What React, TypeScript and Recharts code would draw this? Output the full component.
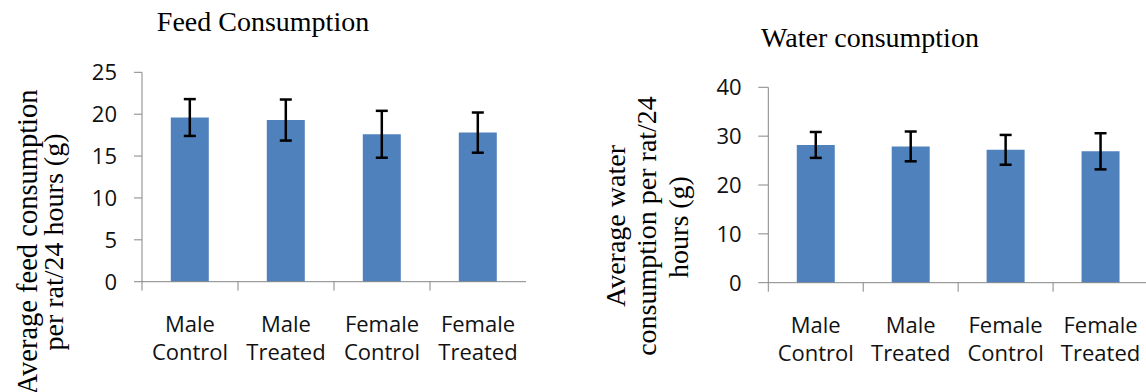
import React from 'react';
import { BarChart, Bar, XAxis, YAxis, ErrorBar } from 'recharts';

const categories = ['Male Control', 'Male Treated', 'Female Control', 'Female Treated'];
const feedMean = [19.6, 19.3, 17.6, 17.8];
const feedErr = [2.2, 2.45, 2.8, 2.4];
const waterMean = [28.2, 27.9, 27.2, 26.9];
const waterErr = [2.65, 3.05, 3.05, 3.7];
const feedTicks = [0, 5, 10, 15, 20, 25];
const waterTicks = [0, 10, 20, 30, 40];

const feedData = categories.map((c, i) => ({ name: c, value: feedMean[i], err: feedErr[i] }));
const waterData = categories.map((c, i) => ({ name: c, value: waterMean[i], err: waterErr[i] }));

const AXIS = '#868686';
const BAR = '#4F81BD';
const SANS = '"Open Sans", sans-serif';
const SERIF = '"Liberation Serif", serif';

const makeTick = (half: number) => (props: any) => {
  const { x, y, payload } = props;
  const parts = String(payload.value).split(' ');
  const h = payload && typeof payload.offset === 'number' && payload.offset > 0 ? payload.offset : half;
  return (
    <g>
      <line x1={x - h} x2={x - h} y1={y} y2={y + 9} stroke={AXIS} strokeWidth={1} />
      <text x={x} y={y} textAnchor="middle" fontFamily={SANS} fontSize={22} fill="#111">
        <tspan x={x} dy={50}>{parts[0]}</tspan>
        <tspan x={x} dy={28}>{parts[1]}</tspan>
      </text>
    </g>
  );
};

const serifStyle: React.CSSProperties = { fontFamily: SERIF, fontSize: 28, fill: '#000' };

export default function App() {
  return (
    <div style={{ position: 'absolute', left: 0, top: 0, width: 1146, height: 392, overflow: 'hidden', background: '#fff' }}>
      <div style={{ position: 'absolute', left: 0, top: 0 }}>
        <BarChart width={560} height={392} data={feedData}
          margin={{ top: 72.3, right: 34, bottom: 10.3, left: 0 }} barCategoryGap="30%">
          <XAxis dataKey="name" interval={0} height={100} tickLine={false} tickSize={0} tickMargin={0}
            axisLine={{ stroke: AXIS }} tick={makeTick(48)} />
          <YAxis width={142} domain={[0, 25]} ticks={feedTicks} interval={0} tickSize={8} tickMargin={17}
            axisLine={{ stroke: AXIS }} tickLine={{ stroke: AXIS }}
            tick={{ fontFamily: SANS, fontSize: 22, fill: '#111' }} />
          <Bar dataKey="value" fill={BAR} isAnimationActive={false}>
            <ErrorBar dataKey="err" width={6} stroke="#000" strokeWidth={2.5} isAnimationActive={false} />
          </Bar>
        </BarChart>
      </div>
      <div style={{ position: 'absolute', left: 580, top: 0 }}>
        <BarChart width={570} height={392} data={waterData}
          margin={{ top: 87.3, right: 2, bottom: 9.3, left: 0 }} barCategoryGap="30%">
          <XAxis dataKey="name" interval={0} height={100} tickLine={false} tickSize={0} tickMargin={0}
            axisLine={{ stroke: AXIS }} tick={makeTick(47.5)} />
          <YAxis width={188.3} domain={[0, 40]} ticks={waterTicks} interval={0} tickSize={10} tickMargin={16.6}
            axisLine={{ stroke: AXIS }} tickLine={{ stroke: AXIS }}
            tick={{ fontFamily: SANS, fontSize: 22, fill: '#111' }} />
          <Bar dataKey="value" fill={BAR} isAnimationActive={false}>
            <ErrorBar dataKey="err" width={6} stroke="#000" strokeWidth={2.5} isAnimationActive={false} />
          </Bar>
        </BarChart>
      </div>
      <svg width={1146} height={392} style={{ position: 'absolute', left: 0, top: 0, pointerEvents: 'none' }}>
        <text x={263} y={31} textAnchor="middle" style={serifStyle}>Feed Consumption</text>
        <text x={870} y={46.5} textAnchor="middle" style={serifStyle}>Water consumption</text>
        <text transform="translate(37,242) rotate(-90)" textAnchor="middle" style={{ ...serifStyle, fontSize: 28.5 }}>Average feed consumption</text>
        <text transform="translate(63,242) rotate(-90)" textAnchor="middle" style={serifStyle}>per rat/24 hours (g)</text>
        <text transform="translate(625,226) rotate(-90)" textAnchor="middle" style={serifStyle}>Average water</text>
        <text transform="translate(656,226) rotate(-90)" textAnchor="middle" style={serifStyle}>consumption per rat/24</text>
        <text transform="translate(688,227) rotate(-90)" textAnchor="middle" style={serifStyle}>hours (g)</text>
      </svg>
    </div>
  );
}
